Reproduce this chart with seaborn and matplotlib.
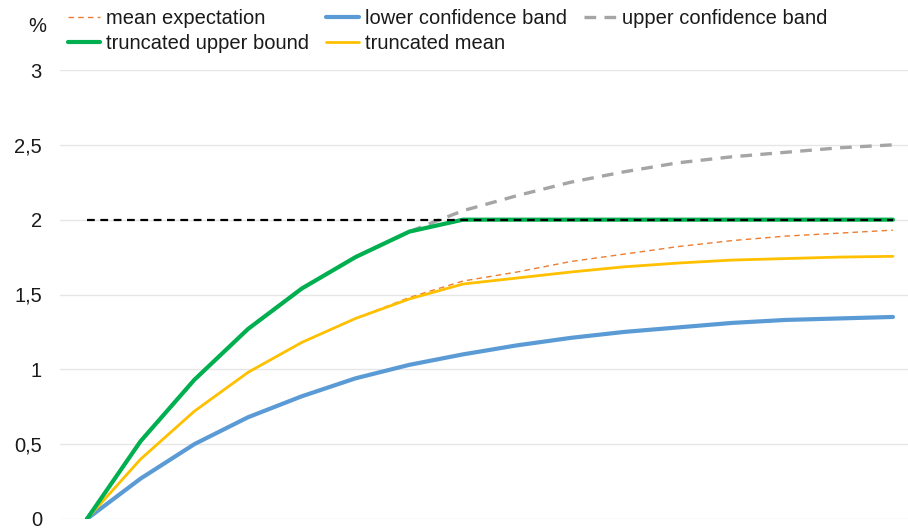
import matplotlib
matplotlib.use("Agg")
import matplotlib.pyplot as plt
import matplotlib.ticker as mticker
import pandas as pd
import seaborn as sns

# values, one per period (16 periods, no x labels)
periods = list(range(16))
mean_expectation = [0, 0.40, 0.72, 0.98, 1.18, 1.34, 1.48, 1.59, 1.65, 1.72, 1.77, 1.82, 1.86, 1.89, 1.91, 1.93]
lower_band = [0, 0.27, 0.50, 0.68, 0.82, 0.94, 1.03, 1.10, 1.16, 1.21, 1.25, 1.28, 1.31, 1.33, 1.34, 1.35]
upper_band = [0, 0.52, 0.93, 1.27, 1.54, 1.75, 1.92, 2.06, 2.16, 2.25, 2.32, 2.38, 2.42, 2.45, 2.48, 2.50]
trunc_upper = [0, 0.52, 0.93, 1.27, 1.54, 1.75, 1.92, 2.0, 2.0, 2.0, 2.0, 2.0, 2.0, 2.0, 2.0, 2.0]
trunc_mean = [0, 0.40, 0.72, 0.98, 1.18, 1.34, 1.47, 1.57, 1.61, 1.65, 1.685, 1.71, 1.73, 1.74, 1.75, 1.755]
cap_level = [2.0] * 16
y_ticks = [0, 0.5, 1, 1.5, 2, 2.5, 3]

FS = 14.5

sns.set_theme(style="white")
plt.rcParams["font.family"] = ["Liberation Sans", "DejaVu Sans"]

df = pd.DataFrame({
    "period": periods,
    "mean": mean_expectation,
    "lower": lower_band,
    "upper": upper_band,
    "tupper": trunc_upper,
    "tmean": trunc_mean,
    "cap": cap_level,
})

fig = plt.figure(figsize=(9.08, 5.28), dpi=100)
ax = fig.add_axes([60 / 908, 9 / 528, 848 / 908, 449 / 528])

styles = {
    "lower": dict(color="#5B9BD5", lw=3.0, ls="-", label="lower confidence band"),
    "upper": dict(color="#A5A5A5", lw=2.4, ls=(0, (3.5, 2.5)), label="upper confidence band"),
    "mean": dict(color="#ED7D31", lw=1.0, ls=(0, (4, 3)), label="mean expectation"),
    "tmean": dict(color="#FFC000", lw=2.0, ls="-", label="truncated mean"),
    "tupper": dict(color="#00B050", lw=3.0, ls="-", label="truncated upper bound"),
}
handles = {}
for key, st in styles.items():
    sns.lineplot(data=df, x="period", y=key, ax=ax, color=st["color"],
                 linewidth=st["lw"], linestyle=st["ls"], label=st["label"])
    handles[key] = ax.get_lines()[-1]

sns.lineplot(data=df, x="period", y="cap", ax=ax, color="black",
             linewidth=1.6, linestyle=(0, (3.5, 2.5)))

ax.set_xlim(-0.5, 15.28)
ax.set_ylim(0, 3)
ax.set_yticks(y_ticks)
ax.yaxis.set_major_formatter(mticker.FuncFormatter(
    lambda v, _: f"{v:g}".replace(".", ",")))
ax.set_xticks([])
ax.set_xlabel("")
ax.set_ylabel("")
ax.grid(axis="y", color="#E6E6E6", linewidth=1)
ax.set_axisbelow(True)
for s in ax.spines.values():
    s.set_visible(False)
ax.tick_params(axis="y", length=0, labelsize=FS, labelcolor="#1a1a1a", pad=13)

ax.get_legend().remove()
order = ["mean", "tupper", "lower", "tmean", "upper"]
fig.legend([handles[k] for k in order], [styles[k]["label"] for k in order],
           ncol=3, loc="upper left", bbox_to_anchor=(68 / 908, 1 - 9 / 528),
           frameon=False, fontsize=FS, handlelength=1.6, handletextpad=0.3,
           columnspacing=0.85, labelspacing=0.32, borderaxespad=0.0,
           borderpad=0.0, labelcolor="#1a1a1a")
fig.text(37 / 908, 1 - 27 / 528, "%", fontsize=FS, color="#1a1a1a",
         ha="center", va="center")

fig.savefig("out.png", dpi=100)
